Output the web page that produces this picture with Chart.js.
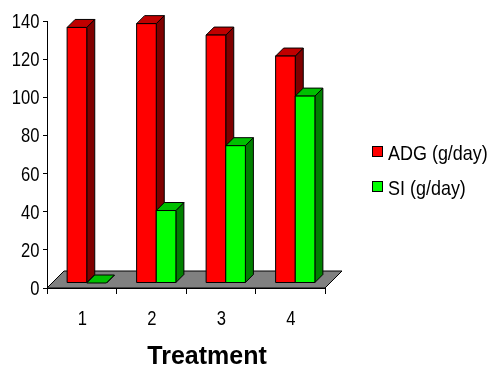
<!DOCTYPE html>
<html>
<head>
<meta charset="utf-8">
<script src="https://cdn.jsdelivr.net/npm/chart.js@4/dist/chart.umd.min.js"></script>
<style>
  html, body { margin: 0; padding: 0; background: #fff; }
</style>
</head>
<body>
<canvas id="chart" width="490" height="369"></canvas>
<script>
// data
const treatments = ['1', '2', '3', '4'];
const adgValues = [134, 136, 130, 119];
const siValues = [0, 38, 72, 98];
const seriesNames = ['ADG (g/day)', 'SI (g/day)'];
const yMin = 0, yMax = 140, yStep = 20;

// face colours for each series: front, side, top
const faceColors = [
    { front: '#ff0000', side: '#800000', top: '#c00000' },
    { front: '#00ff00', side: '#008000', top: '#00c000' }
];

// no narrow font installed, so squeeze the regular one
const FONT = "'Liberation Sans', Arial, sans-serif";
const FLOOR_DEPTH = 17;   // depth of the grey floor
const BAR_FRONT = 5;      // bars start this deep into the floor
const BAR_DEPTH = 8;      // and are this deep

function poly(ctx, pts, fill) {
    ctx.beginPath();
    ctx.moveTo(pts[0][0], pts[0][1]);
    for (let i = 1; i < pts.length; i++) ctx.lineTo(pts[i][0], pts[i][1]);
    ctx.closePath();
    ctx.fillStyle = fill;
    ctx.fill();
    ctx.stroke();
}

function narrowText(ctx, text, x, y, align, sx) {
    ctx.save();
    ctx.translate(x, y);
    ctx.scale(sx, 1);
    ctx.textAlign = align;
    ctx.textBaseline = 'alphabetic';
    ctx.fillText(text, 0, 0);
    ctx.restore();
}

// draws the floor and the bars as 3D boxes, from the bar elements Chart.js laid out
const bars3d = {
    id: 'bars3d',
    beforeDatasetsDraw(chart) {
        const ctx = chart.ctx;
        const area = chart.chartArea;
        const y0 = chart.scales.y.getPixelForValue(0);
        ctx.save();
        ctx.strokeStyle = '#000';
        ctx.lineWidth = 1;

        // floor
        poly(ctx, [
            [area.left, y0],
            [area.right, y0],
            [area.right + FLOOR_DEPTH, y0 - FLOOR_DEPTH],
            [area.left + FLOOR_DEPTH, y0 - FLOOR_DEPTH]
        ], '#808080');

        for (let i = 0; i < treatments.length; i++) {
            chart.data.datasets.forEach((ds, di) => {
                const el = chart.getDatasetMeta(di).data[i];
                const c = faceColors[di];
                const x1 = el.x - el.width / 2 + BAR_FRONT;
                const x2 = el.x + el.width / 2 + BAR_FRONT;
                const yt = el.y - BAR_FRONT;
                const yb = el.base - BAR_FRONT;
                const d = BAR_DEPTH;
                poly(ctx, [[x2, yt], [x2 + d, yt - d], [x2 + d, yb - d], [x2, yb]], c.side);
                poly(ctx, [[x1, yt], [x1 + d, yt - d], [x2 + d, yt - d], [x2, yt]], c.top);
                if (yb - yt > 0.5) {
                    poly(ctx, [[x1, yt], [x2, yt], [x2, yb], [x1, yb]], c.front);
                }
            });
        }
        ctx.restore();
        return false;
    },
    afterDraw(chart) {
        const ctx = chart.ctx;
        const xs = chart.scales.x;
        const ys = chart.scales.y;
        ctx.save();
        ctx.fillStyle = '#000';
        ctx.font = '21px ' + FONT;

        // tick labels, placed by the scales
        ys.ticks.forEach((t, i) => {
            narrowText(ctx, t.label, 39.5, ys.getPixelForTick(i) + 7, 'right', 0.79);
        });
        xs.ticks.forEach((t, i) => {
            narrowText(ctx, xs.getLabelForValue(t.value), xs.getPixelForTick(i) + 0.5, 325, 'center', 0.79);
        });

        // legend
        ctx.lineWidth = 1;
        ctx.strokeStyle = '#000';
        seriesNames.forEach((name, i) => {
            const top = 146 + i * 35;
            ctx.fillStyle = faceColors[i].front;
            ctx.fillRect(372.5, top + 0.5, 10, 10);
            ctx.strokeRect(372.5, top + 0.5, 10, 10);
            ctx.fillStyle = '#000';
            narrowText(ctx, name, 388, top + 14, 'left', 0.855);
        });

        // x axis title
        ctx.font = 'bold 25px ' + FONT;
        ctx.textAlign = 'center';
        ctx.textBaseline = 'middle';
        ctx.fillText('Treatment', 207, 357);
        ctx.restore();
    }
};

const ctx = document.getElementById('chart').getContext('2d');
const chart = new Chart(ctx, {
    type: 'bar',
    data: {
        labels: treatments,
        datasets: [
            { label: seriesNames[0], data: adgValues, backgroundColor: faceColors[0].front },
            { label: seriesNames[1], data: siValues, backgroundColor: faceColors[1].front }
        ]
    },
    options: {
        responsive: false,
        devicePixelRatio: 1,
        animation: false,
        categoryPercentage: 0.565,
        barPercentage: 1,
        layout: { padding: { top: 21, right: 165, left: 0, bottom: 0 } },
        plugins: {
            legend: { display: false },
            tooltip: { enabled: false }
        },
        scales: {
            x: {
                grid: { drawOnChartArea: false, tickLength: 6, color: '#000', offset: true },
                border: { color: '#000', width: 1 },
                ticks: { display: false },
                afterFit(s) { s.height = 81; }
            },
            y: {
                min: yMin,
                max: yMax,
                grid: { drawOnChartArea: false, tickLength: 4, color: '#000' },
                border: { color: '#000', width: 1 },
                ticks: { display: false, stepSize: yStep },
                afterFit(s) { s.width = 47; }
            }
        }
    },
    plugins: [bars3d]
});
</script>
</body>
</html>
